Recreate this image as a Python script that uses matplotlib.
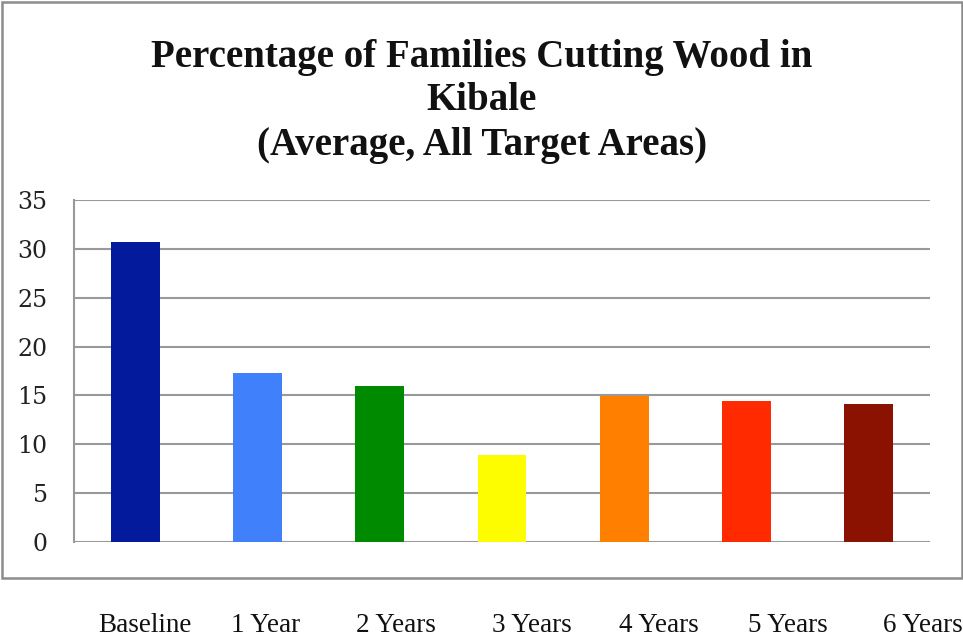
import matplotlib
matplotlib.use("Agg")
import matplotlib.pyplot as plt
from matplotlib.patches import Rectangle
import numpy as np

categories = ["Baseline", "1 Year", "2 Years", "3 Years", "4 Years", "5 Years", "6 Years"]
values = [30.7, 17.3, 16.0, 8.9, 14.9, 14.4, 14.1]
colors = ["#041a9c", "#4080fb", "#008a00", "#fdfd00", "#ff8000", "#ff2a00", "#8b1200"]
yticks = [0, 5, 10, 15, 20, 25, 30, 35]
title = "Percentage of Families Cutting Wood in\nKibale\n(Average, All Target Areas)"

# layout: pixel x-centres of the category captions set below the chart frame
label_px = [145, 266, 396, 532, 659, 788, 923]

W, H = 963, 642
fig = plt.figure(figsize=(W / 100, H / 100), dpi=100)
fig.patch.set_facecolor("white")

# outer chart border
fig.add_artist(Rectangle((2/W, 1 - 578/H), 960/W, 576/H, transform=fig.transFigure,
                         fill=False, edgecolor="#8c8c8c", linewidth=1.8))

ax = fig.add_axes([74/W, 1 - 542/H, (930-74)/W, (542-200)/H])
x = np.arange(len(categories))
ax.bar(x, values, width=0.4, color=colors, zorder=3)
ax.set_xlim(-0.5, len(categories) - 0.5)
ax.set_ylim(0, 35)
ax.set_yticks(yticks)
ax.set_xticks([])
ax.yaxis.grid(True, color="#999999", linewidth=1.5, zorder=0)
ax.set_axisbelow(True)
for s in ["top", "right", "bottom"]:
    ax.spines[s].set_visible(False)
ax.spines["left"].set_color("#999999")
ax.spines["left"].set_linewidth(1.5)
ax.tick_params(axis="y", length=0, pad=19)

for lab in ax.get_yticklabels():
    lab.set_fontfamily("DejaVu Serif")
    lab.set_fontsize(17)
    lab.set_color("#222222")

for cat, px in zip(categories, label_px):
    fig.text(px / W, 1 - 626 / H, cat, ha="center", va="center",
             family="Liberation Serif", fontsize=19.5, color="#111111")

fig.text(482/W, 1 - 101/H, title, ha="center", va="center", fontsize=28,
         fontweight="bold", family="Liberation Serif",
         linespacing=1.25, color="#111111")

fig.savefig("out.png", dpi=100)
